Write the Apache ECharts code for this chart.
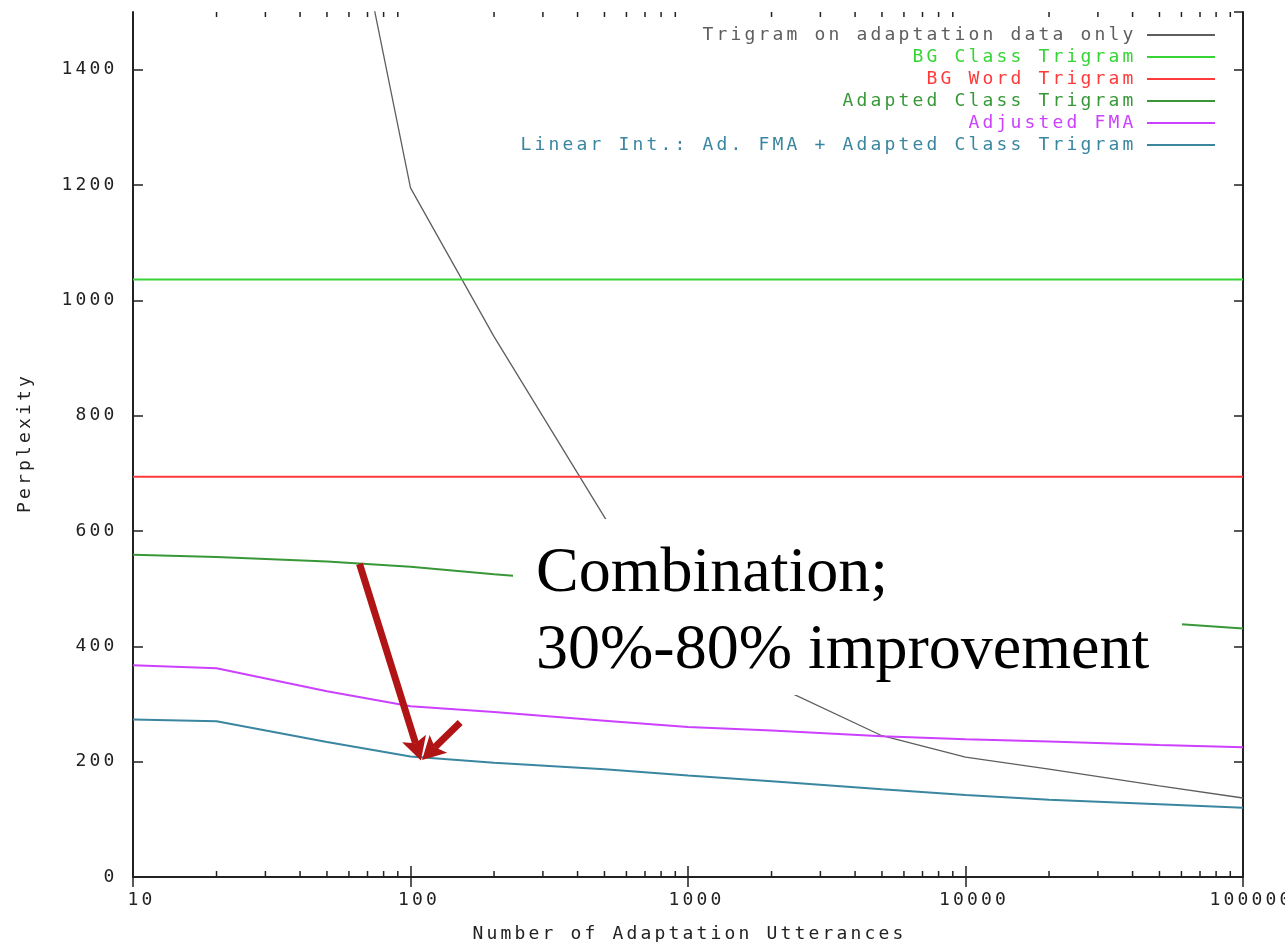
<!DOCTYPE html>
<html><head><meta charset="utf-8">
<script src="https://cdn.jsdelivr.net/npm/echarts@6/dist/echarts.min.js"></script>
<style>html,body{margin:0;padding:0;background:#fff}#c{width:1285px;height:942px}</style>
</head><body><div id="c"></div>
<script>
// ---- data ----
const X_VALUES = [10, 20, 50, 100, 200, 500, 1000, 2000, 5000, 10000, 20000, 50000, 100000];
const TRIGRAM_ADAPT_ONLY = [3300, 2600, 1910, 1195, 937, 624, 390, 335, 245, 208, 187, 158, 137];
const BG_CLASS_TRIGRAM = [1036, 1036, 1036, 1036, 1036, 1036, 1036, 1036, 1036, 1036, 1036, 1036, 1036];
const BG_WORD_TRIGRAM = [694, 694, 694, 694, 694, 694, 694, 694, 694, 694, 694, 694, 694];
const ADAPTED_CLASS_TRIGRAM = [559, 555, 547, 538, 525, 510, 500, 488, 473, 462, 452, 441, 431];
const ADJUSTED_FMA = [367, 362, 322, 296, 286, 271, 260, 254, 244, 239, 235, 229, 225];
const LINEAR_INT = [273, 270, 234, 209, 198, 187, 176, 166, 152, 142, 134, 126, 120];
const SERIES_NAMES = [
  'Trigram on adaptation data only',
  'BG Class Trigram',
  'BG Word Trigram',
  'Adapted Class Trigram',
  'Adjusted FMA',
  'Linear Int.: Ad. FMA + Adapted Class Trigram'
];
const MINOR_TICKS = [20,30,40,50,60,70,80,90,200,300,400,500,600,700,800,900,
  2000,3000,4000,5000,6000,7000,8000,9000,20000,30000,40000,50000,60000,70000,80000,90000];
const Y_MIN = 0, Y_MAX = 1500, Y_STEP = 200;
const X_MIN = 10, X_MAX = 100000;
const ANNOTATION_TEXT = 'Combination;\n30%-80% improvement';
// arrows: [fromX, fromY, toX, toY] in data units (tip at the "to" end)
const ARROWS = [[65.5, 543, 109, 202], [151, 268, 110, 203]];

// ---- styling ----
const MONO = '"DejaVu Sans Mono", monospace';
const COLORS = ['#5e5e5e', '#36d436', '#ff3a3a', '#389838', '#cc40ff', '#3a86a0'];
const INK = '#222';
const ARROW_COLOR = '#b01414';
const rich = {
  c: { width: 14, align: 'center', fontFamily: MONO, fontSize: 18, lineHeight: 16 },
  s: { width: 14, fontFamily: MONO, fontSize: 18, lineHeight: 16 },
  g: { width: 7, fontFamily: MONO, fontSize: 18, lineHeight: 16 }
};
function spaced(s) { return String(s).split('').map(ch => '{c|' + ch + '}').join(''); }
function pairs(ys) { return X_VALUES.map((x, i) => [x, ys[i]]); }

const dataSets = [TRIGRAM_ADAPT_ONLY, BG_CLASS_TRIGRAM, BG_WORD_TRIGRAM, ADAPTED_CLASS_TRIGRAM, ADJUSTED_FMA, LINEAR_INT];

const chart = echarts.init(document.getElementById('c'), null, { renderer: 'canvas' });

const series = dataSets.map((ys, i) => ({
  type: 'line',
  name: SERIES_NAMES[i],
  data: pairs(ys),
  symbol: 'none',
  clip: true,
  lineStyle: { color: COLORS[i], width: i === 0 ? 1.3 : 2 },
  itemStyle: { color: COLORS[i] },
  z: 3
}));

// minor log ticks (bottom and top frame)
series.push({
  type: 'custom',
  name: 'minorTicks',
  silent: true,
  clip: false,
  z: 4,
  data: MINOR_TICKS.map(v => [v, Y_MIN]),
  renderItem: function (params, api) {
    const x = api.value(0);
    const pb = api.coord([x, Y_MIN]);
    const pt = api.coord([x, Y_MAX]);
    return {
      type: 'group',
      children: [
        { type: 'line', shape: { x1: pb[0], y1: pb[1], x2: pb[0], y2: pb[1] - 6 }, style: { stroke: INK, lineWidth: 1.5 } },
        { type: 'line', shape: { x1: pt[0], y1: pt[1], x2: pt[0], y2: pt[1] + 5 }, style: { stroke: INK, lineWidth: 1.5 } }
      ]
    };
  }
});

// annotation arrows
series.push({
  type: 'custom',
  name: 'arrows',
  silent: true,
  clip: false,
  z: 6,
  data: ARROWS,
  encode: { x: [0, 2], y: [1, 3] },
  renderItem: function (params, api) {
    const p0 = api.coord([api.value(0), api.value(1)]);
    const p1 = api.coord([api.value(2), api.value(3)]);
    const dx = p1[0] - p0[0], dy = p1[1] - p0[1];
    const len = Math.sqrt(dx * dx + dy * dy);
    const ux = dx / len, uy = dy / len, nx = -uy, ny = ux;
    const L = 23, W = 12.5, notch = 18;
    const bx = p1[0] - ux * L, by = p1[1] - uy * L;
    const mx = p1[0] - ux * notch, my = p1[1] - uy * notch;
    return {
      type: 'group',
      children: [
        { type: 'line', shape: { x1: p0[0], y1: p0[1], x2: mx, y2: my }, style: { stroke: ARROW_COLOR, lineWidth: 7 } },
        { type: 'polygon', shape: { points: [[p1[0], p1[1]], [bx + nx * W, by + ny * W], [mx, my], [bx - nx * W, by - ny * W]] },
          style: { fill: ARROW_COLOR } }
      ]
    };
  }
});

const option = {
  animation: false,
  backgroundColor: '#fff',
  grid: { left: 133, right: 42, top: 12, bottom: 65, containLabel: false, outerBoundsMode: 'none' },
  legend: {
    data: SERIES_NAMES.map((n, i) => ({ name: n, textStyle: { color: COLORS[i] } })),
    orient: 'vertical',
    align: 'right',
    right: 64,
    top: 21,
    itemWidth: 68,
    itemHeight: 14,
    itemGap: 4,
    selectedMode: false,
    lineStyle: { width: 2 },
    itemStyle: { opacity: 0 },
    formatter: n => spaced(n) + '{g|}',
    textStyle: { fontFamily: MONO, fontSize: 18, rich: rich }
  },
  xAxis: [{
    type: 'log', logBase: 10, min: X_MIN, max: X_MAX, position: 'bottom',
    axisLine: { show: true, lineStyle: { color: INK, width: 2 } },
    axisTick: { show: true, inside: true, length: 11, lineStyle: { color: INK, width: 1.5 } },
    axisLabel: { color: INK, margin: 15, formatter: v => '{s|}' + spaced(Math.round(v)), rich: rich },
    splitLine: { show: false },
    minorTick: { show: false },
    name: spaced('Number of Adaptation Utterances'),
    nameLocation: 'middle', nameGap: 49,
    nameTextStyle: { color: INK, rich: rich }
  }, {
    type: 'log', logBase: 10, min: X_MIN, max: X_MAX, position: 'top',
    axisLine: { show: true, lineStyle: { color: INK, width: 2 } },
    axisTick: { show: true, inside: true, length: 10, lineStyle: { color: INK, width: 1.5 } },
    axisLabel: { show: false },
    splitLine: { show: false }
  }],
  yAxis: [{
    type: 'value', min: Y_MIN, max: Y_MAX, interval: Y_STEP, position: 'left',
    axisLine: { show: true, lineStyle: { color: INK, width: 2 } },
    axisTick: { show: true, inside: true, length: 10, lineStyle: { color: INK, width: 1.5 } },
    axisLabel: { color: INK, margin: 17, showMaxLabel: false, formatter: v => spaced(v), rich: rich },
    splitLine: { show: false },
    name: spaced('Perplexity'),
    nameLocation: 'middle', nameGap: 100, nameRotate: 90,
    nameTextStyle: { color: INK, rich: rich }
  }, {
    type: 'value', min: Y_MIN, max: Y_MAX, interval: Y_STEP, position: 'right',
    axisLine: { show: true, lineStyle: { color: INK, width: 2 } },
    axisTick: { show: true, inside: true, length: 9, lineStyle: { color: INK, width: 1.5 } },
    axisLabel: { show: false },
    splitLine: { show: false }
  }],
  series: series,
  graphic: [
    { type: 'rect', shape: { x: 513, y: 519, width: 669, height: 176 }, style: { fill: '#fff' }, z: 100, silent: true },
    { type: 'text', x: 536, y: 536, z: 101, silent: true,
      style: { text: ANNOTATION_TEXT, font: '64px "Liberation Serif"', fill: '#000', lineHeight: 77 } }
  ]
};
chart.setOption(option);
</script>
</body></html>
